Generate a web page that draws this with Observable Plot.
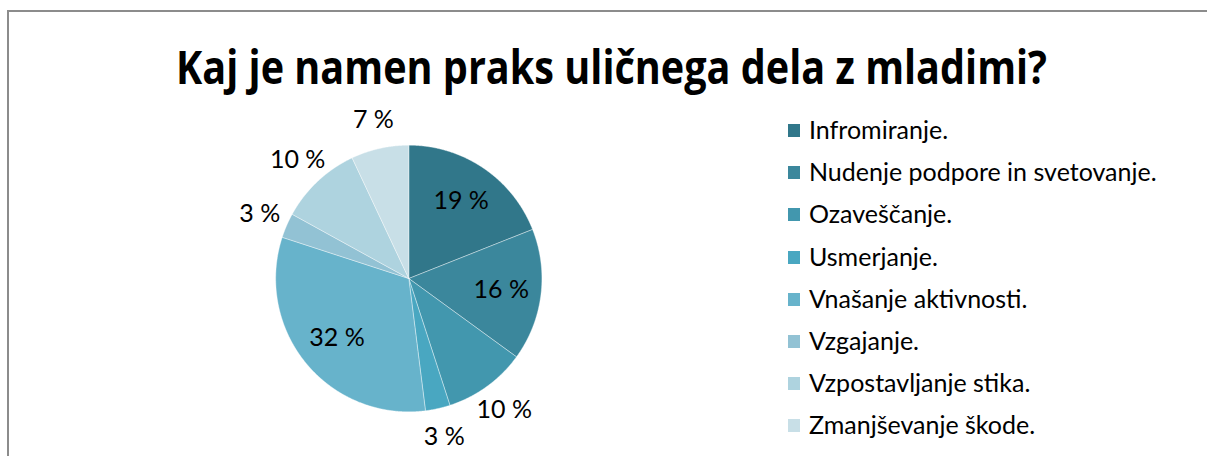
<!DOCTYPE html>
<html>
<head>
<meta charset="utf-8">
<script src="https://cdn.jsdelivr.net/npm/d3@7"></script>
<script src="https://cdn.jsdelivr.net/npm/@observablehq/plot@0.6"></script>
<style>
  html, body { margin: 0; padding: 0; background: #fff; }
  #wrap { position: relative; width: 1207px; height: 456px; overflow: hidden; background: #fff; font-family: Lato, "Open Sans", sans-serif; }
  #frame { position: absolute; left: 7px; top: 10px; width: 1400px; height: 700px; border: 2px solid #8c8c8c; box-sizing: border-box; }
  #plot { position: absolute; left: 0; top: 0; }
  #title { position: absolute; left: 0; top: 0; }
  #legend { position: absolute; left: 788px; top: 0; }
  .item { position: absolute; left: 0; white-space: nowrap; font-size: 25px; color: #000; line-height: 1; }
  .sw { position: absolute; left: 0; width: 12px; height: 13px; }
  .lab { position: absolute; left: 21px; }
</style>
</head>
<body>
<div id="wrap">
  <div id="frame"></div>
  <div id="plot"></div>
  <svg id="title" width="1207" height="110"></svg>
  <div id="legend"></div>
</div>
<script>
const titleText = "Kaj je namen praks uličnega dela z mladimi?";
const categories = [
  "Infromiranje.",
  "Nudenje podpore in svetovanje.",
  "Ozaveščanje.",
  "Usmerjanje.",
  "Vnašanje aktivnosti.",
  "Vzgajanje.",
  "Vzpostavljanje stika.",
  "Zmanjševanje škode."
];
const values = [19, 16, 10, 3, 32, 3, 10, 7];
const colors = ["#31778A", "#3B879C", "#4297AE", "#49A7C1", "#67B3CB", "#92C2D4", "#AED3DF", "#C8DFE7"];

// build slice polygons (angles clockwise from top) with d3.pie
const total = d3.sum(values);
const arcs = d3.pie().sort(null).value(d => d.value)(categories.map((c, i) => ({cat: c, value: values[i]})));
const slicePts = [];
arcs.forEach(a => {
  const c = a.data.cat;
  slicePts.push({cat: c, x: 0, y: 0});
  const n = Math.max(2, Math.ceil((a.endAngle - a.startAngle) / 0.005));
  for (let k = 0; k <= n; k++) {
    const t = a.startAngle + (a.endAngle - a.startAngle) * k / n;
    slicePts.push({cat: c, x: Math.sin(t), y: Math.cos(t)});
  }
  slicePts.push({cat: c, x: 0, y: 0});
});
const labelData = arcs.map(a => {
  const m = (a.startAngle + a.endAngle) / 2;
  const pct = Math.round(a.data.value / total * 100);
  const r = pct >= 15 ? 0.70 : 1.22;
  return {x: r * Math.sin(m), y: r * Math.cos(m), text: pct + " %"};
});

const chart = Plot.plot({
  width: 1207,
  height: 456,
  margin: 0,
  style: {background: "transparent", fontFamily: "Lato, 'Open Sans', sans-serif"},
  x: {domain: [-1, 1], range: [275.2, 541.4], axis: null},
  y: {domain: [-1, 1], range: [411.3, 144.7], axis: null},
  color: {domain: categories, range: colors},
  marks: [
    Plot.line(slicePts, {x: "x", y: "y", z: "cat", fill: "cat", stroke: "#ffffff", strokeWidth: 0.7, strokeOpacity: 0.55, curve: "linear"}),
    Plot.text(labelData, {x: "x", y: "y", text: "text", fill: "#000", fontSize: 25, textAnchor: "middle", lineAnchor: "middle"})
  ]
});
document.getElementById("plot").appendChild(chart);

// title
const tsvg = d3.select("#title");
tsvg.append("text")
  .attr("x", 611.5).attr("y", 84)
  .attr("text-anchor", "middle")
  .attr("font-family", "'Open Sans', Lato, sans-serif")
  .attr("font-weight", 700)
  .attr("font-size", 46)
  .attr("textLength", 871)
  .attr("lengthAdjust", "spacingAndGlyphs")
  .attr("fill", "#000")
  .text(titleText);

// legend
const leg = document.getElementById("legend");
categories.forEach((c, i) => {
  const yc = 130.5 + i * 42.2;
  const sw = document.createElement("div");
  sw.className = "sw";
  sw.style.top = (yc - 6.5) + "px";
  sw.style.background = colors[i];
  leg.appendChild(sw);
  const lab = document.createElement("div");
  lab.className = "item lab";
  lab.style.top = (yc - 13.5) + "px";
  lab.textContent = c;
  leg.appendChild(lab);
});
</script>
</body>
</html>
